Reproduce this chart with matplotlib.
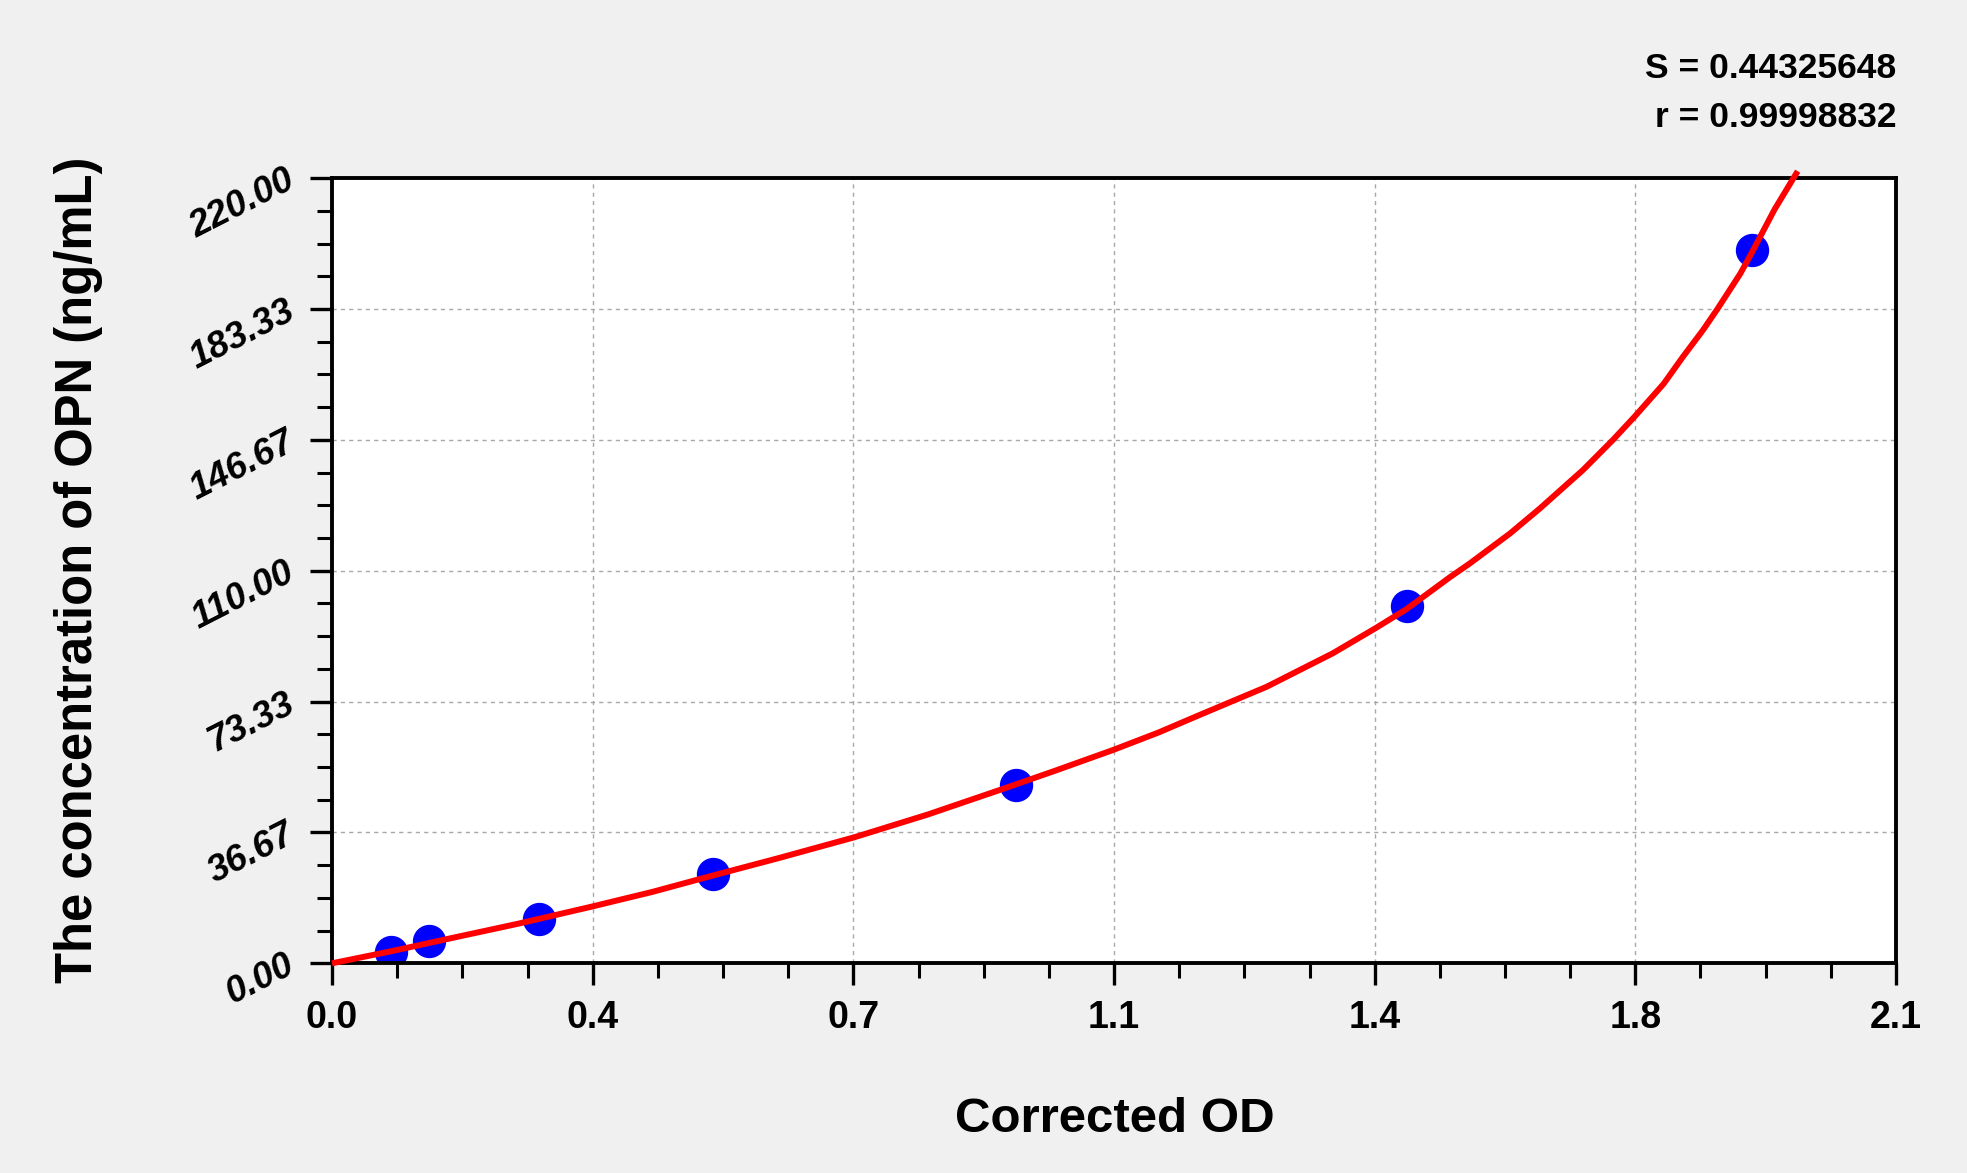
import matplotlib
matplotlib.use("Agg")
import matplotlib.pyplot as plt
import numpy as np
from matplotlib.ticker import AutoMinorLocator

# standard points (corrected OD vs concentration)
od = [0.079, 0.130, 0.278, 0.511, 0.918, 1.443, 1.907]
conc = [3.125, 6.25, 12.5, 25.0, 50.0, 100.0, 200.0]

# fitted curve
curve_x = [0.000, 0.080, 0.159, 0.250, 0.349, 0.430, 0.506, 0.600, 0.701,
           0.800, 0.897, 0.970, 1.049, 1.110, 1.165, 1.255, 1.344, 1.401,
           1.443, 1.501, 1.528, 1.582, 1.622, 1.680, 1.720, 1.749, 1.788,
           1.814, 1.841, 1.860, 1.891, 1.907, 1.937, 1.968]
curve_y = [0.0, 3.4, 7.0, 11.1, 15.9, 20.0, 24.3, 29.5, 35.3,
           41.7, 48.6, 53.9, 59.8, 64.7, 69.6, 77.5, 86.9, 93.9,
           99.3, 108.2, 112.1, 120.5, 127.5, 138.3, 146.7, 153.2, 162.4,
           170.0, 177.5, 183.3, 193.3, 199.4, 211.3, 222.0]

x_ticks = [0.0, 0.35, 0.70, 1.05, 1.40, 1.75, 2.10]
x_tick_labels = ["0.0", "0.4", "0.7", "1.1", "1.4", "1.8", "2.1"]
y_ticks = [0.0, 36.67, 73.33, 110.0, 146.67, 183.33, 220.0]
y_tick_labels = ["0.00", "36.67", "73.33", "110.00", "146.67", "183.33", "220.00"]

stats = ["S = 0.44325648", "r = 0.99998832"]

plt.rcParams['font.family'] = ['Liberation Sans', 'DejaVu Sans']
plt.rcParams['font.weight'] = 'bold'

W, H = 1967, 1173
fig = plt.figure(figsize=(W / 100, H / 100), dpi=100, facecolor='#F0F0F0')
ax = fig.add_axes([332 / W, 1 - 963.3 / H, 1564 / W, 785 / H])
ax.set_facecolor('white')

ax.plot(curve_x, curve_y, color='#FF0000', lw=4.3, zorder=3, clip_on=False,
        solid_capstyle='butt', solid_joinstyle='round')
ax.plot(od, conc, 'o', color='#0000FF', ms=23, mec='#0000FF', zorder=2)

ax.set_xlim(0, 2.1)
ax.set_ylim(0, 220)
ax.set_xticks(x_ticks)
ax.set_xticklabels(x_tick_labels, fontsize=27, fontweight='bold')
ax.set_yticks(y_ticks)
ax.set_yticklabels(y_tick_labels, fontsize=26.5, fontweight='bold', style='italic',
                   rotation=27, ha='right', va='center', rotation_mode='anchor')
ax.xaxis.set_minor_locator(AutoMinorLocator(4))
ax.yaxis.set_minor_locator(AutoMinorLocator(4))

ax.tick_params(which='major', direction='out', length=15.5, width=2.4)
ax.tick_params(which='minor', direction='out', length=10.5, width=2.2)
ax.tick_params(axis='x', which='major', pad=11)
ax.tick_params(axis='y', which='major', pad=13)
for s in ax.spines.values():
    s.set_linewidth(2.8)
    s.set_color('black')

ax.grid(True, which='major', color='#A8A8A8', linestyle=(0, (3, 3)), lw=1.0)
ax.set_axisbelow(True)

ax.set_xlabel("Corrected OD", fontsize=35.5, fontweight='bold')
ax.xaxis.set_label_coords(1115 / W, 1 - 1131.7 / H, transform=fig.transFigure)
ax.xaxis.label.set_va('baseline')

ax.set_ylabel("The concentration of OPN (ng/mL)", fontsize=36.5, fontweight='bold')
ax.yaxis.set_label_coords(92 / W, 1 - 570 / H, transform=fig.transFigure)
ax.yaxis.label.set_va('baseline')

fig.text(1896 / W, 1 - 77.5 / H, stats[0], ha='right', va='baseline',
         fontsize=25.5, fontweight='bold')
fig.text(1896 / W, 1 - 127 / H, stats[1], ha='right', va='baseline',
         fontsize=25.5, fontweight='bold')

fig.savefig("out.png", dpi=100, facecolor=fig.get_facecolor())
